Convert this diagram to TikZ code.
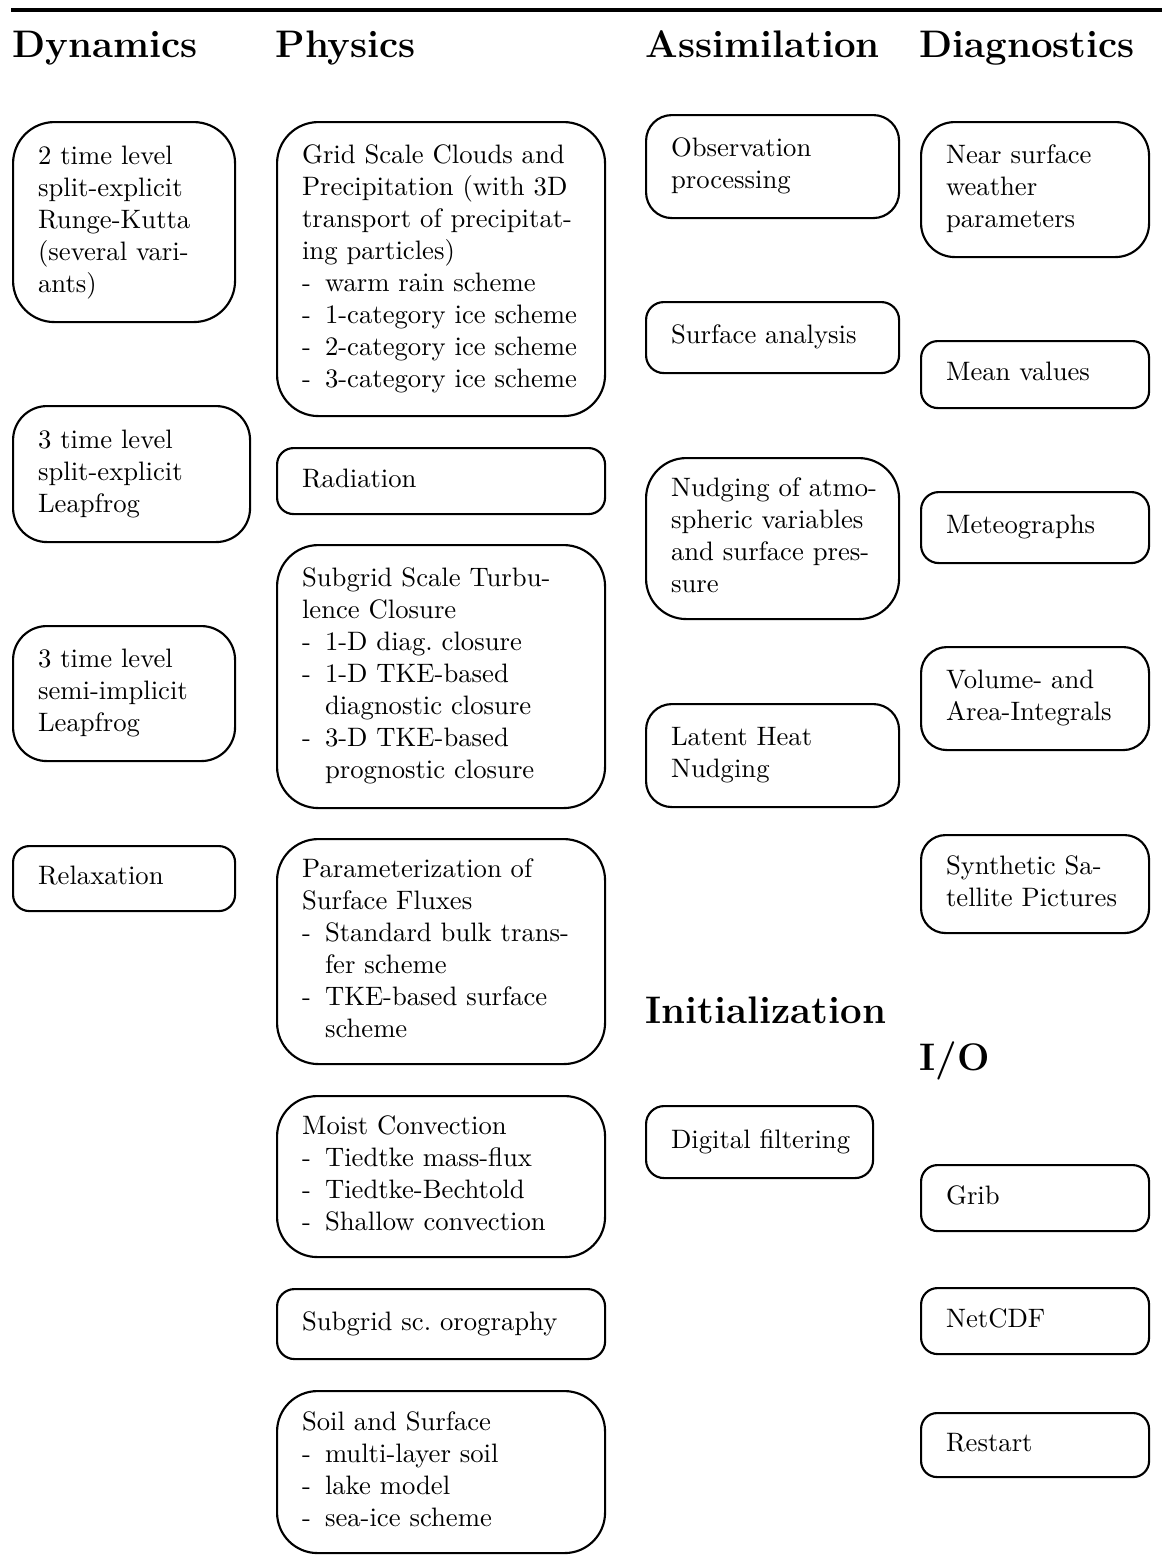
\documentclass[tikz,border=0pt]{standalone}
\usetikzlibrary{calc}
\newcommand\bxl[1]{\mbox{\strut #1}}
\newcommand\bxi[1]{\mbox{\strut\makebox[8.6pt][l]{-}#1}}
\newcommand\bxc[1]{\mbox{\strut\hspace*{8.6pt}#1}}
\newcommand\bxj[1]{\makebox[\linewidth][s]{\strut #1}}
\newcommand\bxij[1]{\mbox{\strut\makebox[8.6pt][l]{-}\makebox[\dimexpr\linewidth-8.6pt\relax][s]{#1}}}
\tikzset{
  boxnode/.style={draw, line width=0.8pt, rectangle, anchor=north west,
    inner xsep=9.375pt, inner ysep=0pt, align=left, font=\normalsize},
  headnode/.style={anchor=base west, inner sep=0pt, font=\Large\bfseries},
  toprule/.style={line width=1.5pt},
}
\newcommand\mybox[6]{%
  \pgfmathsetmacro\bw{(#4-#2)*0.375}%
  \pgfmathsetmacro\bh{(#5-#3)*0.375}%
  \pgfmathsetmacro\tw{\bw-18.75}%
  \pgfmathsetmacro\rr{min(0.25*min(\bw,\bh),15.5)}%
  \node[boxnode, minimum width=\bw pt, minimum height=\bh pt,
        text width=\tw pt, rounded corners=\rr pt] (#1) at (#2,#3) {#6};%
}
\begin{document}
\begin{tikzpicture}[x=0.375pt, y=-0.375pt]
\useasboundingbox (0,0) rectangle (1161,1564);
% top rule
\coordinate (ruleL) at (11,10.3);
\coordinate (ruleR) at (1163,10.3);
\draw[toprule] (ruleL) -- (ruleR);
% headings
\node[headnode] (hdyn) at (12,57) {Dynamics};
\node[headnode] (hphy) at (275,57) {Physics};
\node[headnode] (hass) at (645,57) {Assimilation};
\node[headnode] (hdia) at (919,57) {Diagnostics};
\node[headnode] (hini) at (645,1023) {Initialization};
\node[headnode] (hio) at (919,1070) {I/O};
% Dynamics
\mybox{d1}{12}{121}{234}{321}{\bxl{2 time level}\\\bxl{split-explicit}\\\bxl{Runge-Kutta}\\\bxl{(several vari-}\\\bxl{ants)}}
\mybox{d2}{12}{405}{249}{541}{\bxl{3 time level}\\\bxl{split-explicit}\\\bxl{Leapfrog}}
\mybox{d3}{12}{625}{234}{760}{\bxl{3 time level}\\\bxl{semi-implicit}\\\bxl{Leapfrog}}
\mybox{d4}{12}{845}{234}{910}{\bxl{Relaxation}}
% Physics
\mybox{p1}{276}{121}{604}{415}{\bxl{Grid Scale Clouds and}\\\bxl{Precipitation (with 3D}\\\bxj{transport of precipitat-}\\\bxl{ing particles)}\\\bxi{warm rain scheme}\\\bxi{1-category ice scheme}\\\bxi{2-category ice scheme}\\\bxi{3-category ice scheme}}
\mybox{p2}{276}{447}{604}{513}{\bxl{Radiation}}
\mybox{p3}{276}{544}{604}{807}{\bxl{Subgrid Scale Turbu-}\\\bxl{lence Closure}\\\bxi{1-D diag.\ closure}\\\bxi{1-D TKE-based}\\\bxc{diagnostic closure}\\\bxi{3-D TKE-based}\\\bxc{prognostic closure}}
\mybox{p4}{276}{838}{604}{1063}{\bxl{Parameterization of}\\\bxl{Surface Fluxes}\\\bxij{Standard bulk trans-}\\\bxc{fer scheme}\\\bxi{TKE-based surface}\\\bxc{scheme}}
\mybox{p5}{276}{1095}{604}{1256}{\bxl{Moist Convection}\\\bxi{Tiedtke mass-flux}\\\bxi{Tiedtke-Bechtold}\\\bxi{Shallow convection}}
\mybox{p6}{276}{1288}{604}{1358}{\bxl{Subgrid sc.\ orography}}
\mybox{p7}{276}{1390}{604}{1552}{\bxl{Soil and Surface}\\\bxi{multi-layer soil}\\\bxi{lake model}\\\bxi{sea-ice scheme}}
% Assimilation
\mybox{a1}{645}{114}{898}{217}{\bxl{Observation}\\\bxl{processing}}
\mybox{a2}{645}{301}{898}{372}{\bxl{Surface analysis}}
\mybox{a3}{645}{457}{898}{618}{\bxl{Nudging of atmo-}\\\bxl{spheric variables}\\\bxj{and surface pres-}\\\bxl{sure}}
\mybox{a4}{645}{703}{898}{806}{\bxl{Latent Heat}\\\bxl{Nudging}}
\mybox{a5}{645}{1105}{872}{1177}{\bxl{Digital filtering}}
% Diagnostics
\mybox{g1}{920}{121}{1148}{256}{\bxl{Near surface}\\\bxl{weather}\\\bxl{parameters}}
\mybox{g2}{920}{340}{1148}{407}{\bxl{Mean values}}
\mybox{g3}{920}{491}{1148}{562}{\bxl{Meteographs}}
\mybox{g4}{920}{646}{1148}{749}{\bxl{Volume- and}\\\bxl{Area-Integrals}}
\mybox{g5}{920}{834}{1148}{932}{\bxl{Synthetic Sa-}\\\bxl{tellite Pictures}}
% I/O
\mybox{io1}{920}{1164}{1148}{1230}{\bxl{Grib}}
\mybox{io2}{920}{1287}{1148}{1353}{\bxl{NetCDF}}
\mybox{io3}{920}{1412}{1148}{1476}{\bxl{Restart}}
\end{tikzpicture}
\end{document}
